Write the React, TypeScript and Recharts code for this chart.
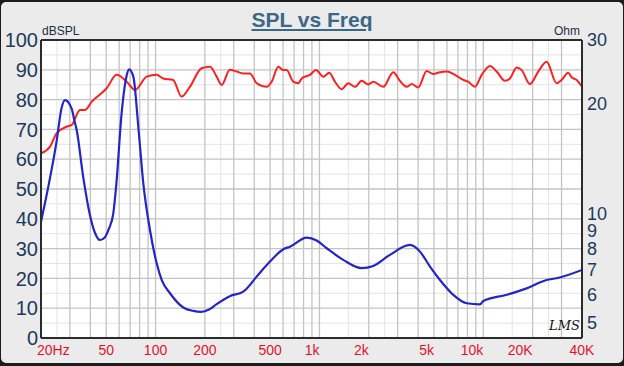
import React from 'react';
import { ComposedChart, Line, XAxis, YAxis, CartesianGrid, ReferenceLine } from 'recharts';

// Frequency axis ticks and labels
const freqTicks = [20, 50, 100, 200, 500, 1000, 2000, 5000, 10000, 20000, 40000];
const freqLabels = ['20Hz', '50', '100', '200', '500', '1k', '2k', '5k', '10k', '20K', '40K'];

// Grid values
const majorFreqGrid = [20, 30, 40, 50, 60, 70, 80, 90, 100, 200, 300, 400, 500, 600, 700, 800, 900, 1000, 2000, 3000, 4000, 5000, 6000, 7000, 8000, 9000, 10000, 20000, 30000, 40000];
const minorFreqGrid = [25, 250, 1500, 2500, 15000, 25000];
const dbTicks = [0, 10, 20, 30, 40, 50, 60, 70, 80, 90, 100];
const dbMinor = [5, 15, 25, 35, 45, 55, 65, 75, 85, 95];
const ohmTicks = [5, 6, 7, 8, 9, 10, 20, 30];

// SPL (dB) series
const splFreq = [20, 22.7, 24.9, 28.7, 30.8, 34.6, 37.1, 40.8, 50.3, 57.9, 66.7, 74.9, 88.3, 101.6, 111.4, 128, 144, 162, 191, 215, 236, 253, 284, 313, 343, 377, 414, 477, 511, 561, 602, 631, 692, 743, 779, 875, 952, 1056, 1148, 1244, 1367, 1500, 1648, 1810, 1986, 2130, 2452, 2822, 3098, 3405, 3654, 4010, 4512, 4950, 5438, 5977, 6714, 7546, 8091, 8892, 9772, 10980, 12061, 13555, 14540, 15977, 17140, 19253, 21626, 24340, 27993, 30060, 32960, 34590, 37120, 40000];
const splDb = [62.0, 64.2, 68.7, 70.9, 71.5, 76.5, 76.5, 79.3, 83.8, 88.3, 86.0, 83.2, 87.7, 88.3, 87.1, 86.6, 81.0, 84.3, 90.5, 91.0, 87.7, 84.9, 90.0, 89.4, 88.8, 88.8, 85.5, 84.3, 86.0, 91.0, 89.9, 89.9, 86.0, 85.5, 87.1, 88.3, 89.9, 87.7, 89.0, 86.0, 83.5, 85.5, 84.3, 86.3, 85.1, 86.0, 84.3, 89.2, 86.3, 84.3, 85.2, 84.1, 89.6, 88.6, 89.2, 89.4, 88.3, 86.6, 86.0, 84.3, 88.3, 91.3, 89.4, 86.3, 87.1, 90.8, 89.9, 85.2, 89.4, 92.7, 85.5, 86.6, 89.0, 87.5, 86.6, 84.3];

// Impedance (Ohm) series
const impFreq = [20, 22.2, 24.9, 26.7, 28.0, 30.8, 32, 33.0, 36.2, 39.8, 42.5, 45.8, 49, 52, 55.2, 57.6, 62.1, 66.7, 68.9, 73.2, 78.5, 84.2, 92.5, 101.6, 109, 122.5, 147.6, 170, 190, 212, 236, 284, 343, 414, 499, 602, 661, 836, 962, 1107, 1397, 1810, 2130, 2692, 3568, 4106, 4726, 5438, 6556, 7912, 9540, 9990, 13876, 18380, 24340, 27993, 40000];
const impOhm = [9.5, 11.9, 15.8, 19.5, 20.5, 19.4, 18.0, 17.0, 12.6, 9.9, 8.9, 8.46, 8.6, 9.1, 10.0, 12.0, 18.9, 24.0, 24.9, 23.8, 17.3, 12.1, 9.0, 7.3, 6.57, 6.04, 5.52, 5.40, 5.37, 5.45, 5.64, 5.93, 6.10, 6.71, 7.38, 7.98, 8.11, 8.59, 8.43, 8.03, 7.46, 7.08, 7.18, 7.70, 8.20, 7.86, 7.15, 6.57, 5.98, 5.67, 5.63, 5.75, 5.98, 6.23, 6.57, 6.64, 7.00];

const splData = splFreq.map((f, i) => ({ f, v: splDb[i] }));
const impData = impFreq.map((f, i) => ({ f, v: impOhm[i] }));

const FONT = '"Liberation Sans", Arial, Helvetica, sans-serif';
const AXIS_COLOR = '#1d3a5a';
const FRAME = '#2b2b2b';

const scaleOf = (axis: any) => {
  const s = axis && axis.scale;
  if (typeof s === 'function') return s;
  if (s && typeof s.map === 'function') return (v: number) => s.map(v);
  return null;
};

const vGen = (vals: number[]) => (props: any) => {
  const s = scaleOf(props.xAxis);
  return s ? vals.map((v) => s(v)) : [];
};
const hGen = (vals: number[]) => (props: any) => {
  const s = scaleOf(props.yAxis);
  return s ? vals.map((v) => s(v)) : [];
};

const FreqTick = (props: any) => {
  const { x, y, payload } = props;
  const i = freqTicks.indexOf(payload.value);
  const label = freqLabels[i] ?? '';
  let anchor: 'start' | 'middle' | 'end' = 'middle';
  let dx = 0;
  if (i === 0) {
    anchor = 'start';
    dx = -4;
  } else if (/k$/i.test(label) && i !== freqTicks.length - 1) {
    anchor = 'end';
    dx = 0;
  }
  return (
    <text x={x + dx} y={y} dy={17} textAnchor={anchor} fill="#e3132f" fontSize={14} fontFamily={FONT}>
      {label}
    </text>
  );
};

export default function App() {
  return (
    <div style={{ position: 'absolute', left: 0, top: 0, width: 624, height: 366, background: '#1c1c1c', overflow: 'hidden' }}>
      <div style={{ position: 'absolute', left: 1, top: 2, width: 622, height: 361, background: '#ebebeb', borderRadius: 5 }} />
      <div style={{ position: 'absolute', left: 0, top: 0 }}>
        <ComposedChart width={624} height={366} margin={{ top: 40, right: 0, bottom: 0, left: 0 }}>
          <CartesianGrid
            fill="#ffffff"
            stroke="#e4e4e4"
            strokeWidth={1}
            verticalCoordinatesGenerator={vGen(minorFreqGrid)}
            horizontalCoordinatesGenerator={hGen(dbMinor)}
          />
          <CartesianGrid
            fill="none"
            stroke="#c4c4c4"
            strokeWidth={1.3}
            verticalCoordinatesGenerator={vGen(majorFreqGrid)}
            horizontalCoordinatesGenerator={hGen(dbTicks)}
          />
          <XAxis
            dataKey="f"
            type="number"
            scale="log"
            domain={[20, 40000]}
            allowDataOverflow
            ticks={freqTicks}
            interval={0}
            height={28}
            tickLine={false}
            tickSize={0}
            tickMargin={0}
            axisLine={{ stroke: FRAME, strokeWidth: 2 }}
            tick={<FreqTick />}
          />
          <YAxis
            type="number"
            domain={[0, 100]}
            ticks={dbTicks}
            interval={0}
            width={41}
            tickLine={false}
            tickSize={0}
            tickMargin={3}
            axisLine={{ stroke: FRAME, strokeWidth: 2 }}
            tick={{ fill: AXIS_COLOR, fontSize: 20, fontFamily: FONT }}
          />
          <YAxis
            yAxisId="ohm"
            orientation="right"
            type="number"
            scale="log"
            domain={[4.55, 30]}
            allowDataOverflow
            ticks={ohmTicks}
            interval={0}
            width={42}
            tickLine={false}
            tickSize={0}
            tickMargin={5}
            axisLine={{ stroke: FRAME, strokeWidth: 2 }}
            tick={{ fill: AXIS_COLOR, fontSize: 18, fontFamily: FONT }}
          />
          <ReferenceLine y={100} stroke={FRAME} strokeWidth={2} />
          <Line
            data={splData}
            dataKey="v"
            type="monotone"
            stroke="#ff1f1f"
            strokeWidth={2}
            dot={false}
            activeDot={false}
            isAnimationActive={false}
          />
          <Line
            data={impData}
            yAxisId="ohm"
            dataKey="v"
            type="monotone"
            stroke="#2424c8"
            strokeWidth={2.2}
            dot={false}
            activeDot={false}
            isAnimationActive={false}
          />
        </ComposedChart>
      </div>
      <div
        style={{
          position: 'absolute',
          left: 0,
          width: 624,
          top: 8,
          textAlign: 'center',
          fontFamily: FONT,
          fontWeight: 'bold',
          fontSize: 21,
          color: '#3b6887',
          textDecoration: 'underline',
          lineHeight: '24px',
        }}
      >
        SPL vs Freq
      </div>
      <div style={{ position: 'absolute', left: 42, top: 24, fontFamily: FONT, fontSize: 12, color: '#1d2d45', lineHeight: '14px' }}>dBSPL</div>
      <div style={{ position: 'absolute', right: 44, top: 24, fontFamily: FONT, fontSize: 12, color: '#1d2d45', lineHeight: '14px' }}>Ohm</div>
      <div
        style={{
          position: 'absolute',
          left: 549,
          top: 318,
          fontFamily: '"DejaVu Serif", serif',
          fontStyle: 'italic',
          fontSize: 13,
          color: '#111',
          lineHeight: '16px',
        }}
      >
        LMS
      </div>
    </div>
  );
}
